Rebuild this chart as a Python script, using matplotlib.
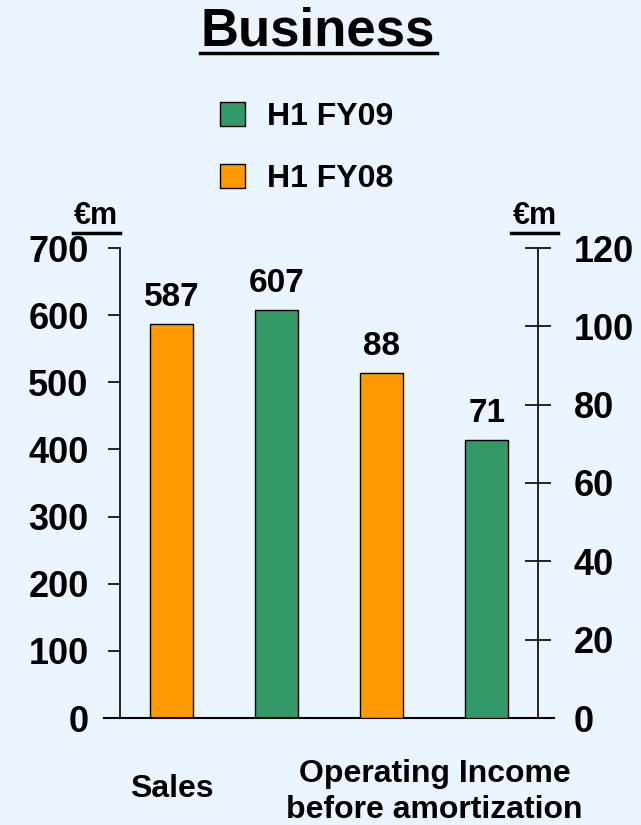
"""
plot.py — Business: Sales and Operating Income before amortization, H1 FY09 vs H1 FY08
Saída: out.png
"""
import matplotlib
matplotlib.use('Agg')
import matplotlib.pyplot as plt
from matplotlib.patches import Patch
from matplotlib.lines import Line2D

periodos = ['H1 FY08', 'H1 FY09']
vendas = [587, 607]            # €m, eixo esquerdo
resultado_oper = [88, 71]      # €m, eixo direito
categorias = ['Sales', 'Operating Income\nbefore amortization']
ticks_esq = [0, 100, 200, 300, 400, 500, 600, 700]
ticks_dir = [0, 20, 40, 60, 80, 100, 120]

COR = {'H1 FY08': '#FF9900', 'H1 FY09': '#339966'}
FUNDO = '#EBF5FF'

plt.rcParams['font.family'] = ['Liberation Sans', 'DejaVu Sans']
plt.rcParams['font.weight'] = 'bold'

fig = plt.figure(figsize=(6.41, 8.25), dpi=100, facecolor=FUNDO)
ax = fig.add_axes([120/641, 107/825, 418/641, 470/825])
ax.set_facecolor(FUNDO)
ax2 = ax.twinx()

larg = 0.41
x_vendas = [0, 1]
x_oper = [2, 3]
cores = [COR[p] for p in periodos]

b1 = ax.bar(x_vendas, vendas, width=larg, color=cores, edgecolor='black', linewidth=1)
b2 = ax2.bar(x_oper, resultado_oper, width=larg, color=cores, edgecolor='black', linewidth=1)

for b, v in zip(b1, vendas):
    ax.annotate(f'{v}', (b.get_x() + b.get_width()/2, v), xytext=(0, 8),
                textcoords='offset points', ha='center', va='bottom',
                fontsize=24, fontweight='bold')
for b, v in zip(b2, resultado_oper):
    ax2.annotate(f'{v}', (b.get_x() + b.get_width()/2, v), xytext=(0, 8),
                 textcoords='offset points', ha='center', va='bottom',
                 fontsize=24, fontweight='bold')

ax.set_xlim(-0.495, 3.486)
ax.set_ylim(0, 700)
ax2.set_ylim(0, 120)
ax.set_yticks(ticks_esq)
ax2.set_yticks(ticks_dir)
ax.set_xticks([])

for a in (ax, ax2):
    a.spines['top'].set_visible(False)
    a.spines['bottom'].set_visible(False)
ax.spines['right'].set_visible(False)
ax2.spines['left'].set_visible(False)
ax.spines['left'].set_linewidth(1.2)
ax2.spines['right'].set_linewidth(1.2)

ax.tick_params(axis='y', direction='out', length=8.5, width=1.2, pad=14, labelsize=26)
ax2.tick_params(axis='y', direction='inout', length=19, width=1.2, pad=16, labelsize=26)
for lab in ax.get_yticklabels() + ax2.get_yticklabels():
    lab.set_fontweight('bold')

# linha de base, um pouco mais longa que os eixos
ax.plot([-0.038, 1.038], [0, 0], transform=ax.transAxes, color='black',
        lw=1.5, clip_on=False)

# rótulos das categorias
ax.text(0, -0.152, categorias[0], transform=ax.get_xaxis_transform(),
        ha='center', va='center', fontsize=23, fontweight='bold')
ax.text(2.5, -0.158, categorias[1], transform=ax.get_xaxis_transform(),
        ha='center', va='center', fontsize=23, fontweight='bold', linespacing=1.25)

# €m sobre os eixos
fig.text(96/641, 1 - 216/825, '€m', ha='center', va='center', fontsize=22, fontweight='bold')
fig.text(535/641, 1 - 216/825, '€m', ha='center', va='center', fontsize=22, fontweight='bold')
for x0, x1 in [(73, 120), (511, 558)]:
    fig.add_artist(Line2D([x0/641, x1/641], [1 - 233/825]*2, color='black', lw=2.5))

# título sublinhado
fig.text(318/641, 1 - 32/825, 'Business', ha='center', va='center',
         fontsize=38, fontweight='bold')
fig.add_artist(Line2D([200/641, 437/641], [1 - 53/825]*2, color='black', lw=2.5))

# legenda
handles = [Patch(facecolor=COR['H1 FY09'], edgecolor='black'),
           Patch(facecolor=COR['H1 FY08'], edgecolor='black')]
fig.legend(handles, ['H1 FY09', 'H1 FY08'], loc='upper left',
           bbox_to_anchor=(204/641, 1 - 86/825), frameon=False,
           prop={'size': 23, 'weight': 'bold'}, handlelength=0.78,
           handleheight=0.78, handletextpad=0.7, labelspacing=1.0, borderpad=0)

fig.savefig('out.png', dpi=100, facecolor=FUNDO)
